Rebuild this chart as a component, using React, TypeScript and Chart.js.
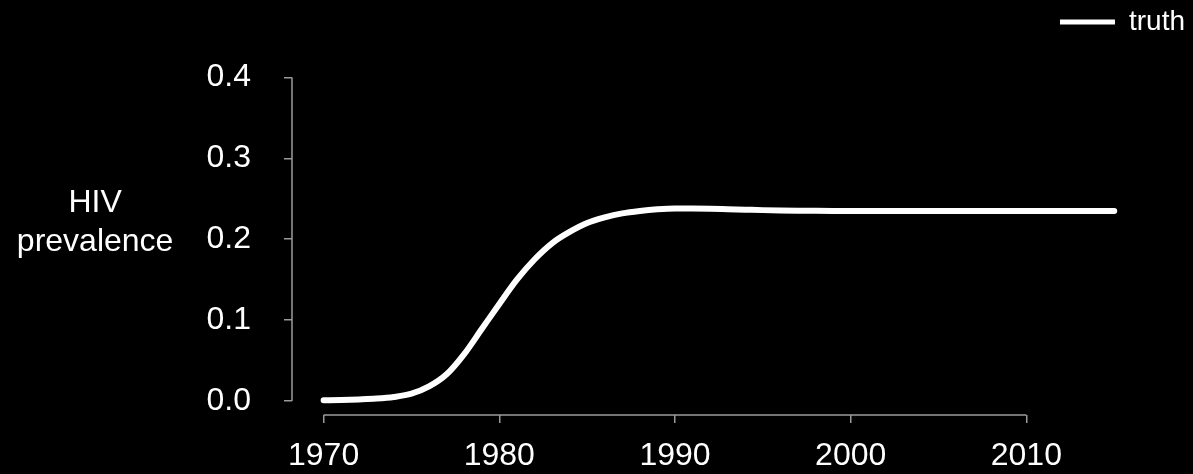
import React, { useEffect, useRef } from "react";
import { Chart, registerables } from "chart.js";

Chart.register(...registerables);

const years: number[] = [
  1970, 1971, 1972, 1973, 1974, 1975, 1976, 1977, 1978, 1979,
  1980, 1981, 1982, 1983, 1984, 1985, 1986, 1987, 1988, 1989,
  1990, 1991, 1992, 1993, 1994, 1995, 1996, 1997, 1998, 1999,
  2000, 2001, 2002, 2003, 2004, 2005, 2006, 2007, 2008, 2009,
  2010, 2011, 2012, 2013, 2014, 2015,
];
const truth: number[] = [
  0.001, 0.0013, 0.002, 0.003, 0.005, 0.009, 0.018, 0.033, 0.058, 0.089,
  0.12, 0.15, 0.175, 0.195, 0.209, 0.22, 0.227, 0.232, 0.235, 0.237,
  0.238, 0.238, 0.2378, 0.2372, 0.2366, 0.236, 0.2356, 0.2353, 0.2351, 0.235,
  0.235, 0.235, 0.235, 0.235, 0.235, 0.235, 0.235, 0.235, 0.235, 0.235,
  0.235, 0.235, 0.235, 0.235, 0.235, 0.235,
];
const xTicks: number[] = [1970, 1980, 1990, 2000, 2010];
const yTicks: number[] = [0, 0.1, 0.2, 0.3, 0.4];
const yTitle: string[] = ["HIV", "prevalence"];
const seriesLabel = "truth";

const FONT = '"Liberation Sans", Arial, Helvetica, sans-serif';
const AXIS_COLOR = "#9a9a9a";

const rAxes = {
  id: "rAxes",
  afterDraw(chart: any) {
    const { ctx, chartArea, scales } = chart;
    const xs = scales.x;
    const ys = scales.y;
    ctx.save();
    ctx.strokeStyle = AXIS_COLOR;
    ctx.lineWidth = 1.5;
    ctx.beginPath();
    ctx.moveTo(chartArea.left, ys.getPixelForValue(yTicks[0]));
    ctx.lineTo(chartArea.left, ys.getPixelForValue(yTicks[yTicks.length - 1]));
    ctx.moveTo(xs.getPixelForValue(xTicks[0]), chartArea.bottom);
    ctx.lineTo(xs.getPixelForValue(xTicks[xTicks.length - 1]), chartArea.bottom);
    ctx.stroke();
    ctx.fillStyle = "#ffffff";
    ctx.font = "32px " + FONT;
    ctx.textAlign = "center";
    ctx.textBaseline = "middle";
    const cx = chartArea.left / 3.07;
    const cy = ys.getPixelForValue(0.2) - 17;
    ctx.fillText(yTitle[0], cx, cy - 19);
    ctx.fillText(yTitle[1], cx, cy + 20);
    ctx.restore();
  },
};

export default function App() {
  const ref = useRef<HTMLCanvasElement | null>(null);
  useEffect(() => {
    if (!ref.current) return;
    const chart = new Chart(ref.current, {
      type: "line",
      data: {
        datasets: [
          {
            label: seriesLabel,
            data: years.map((y, i) => ({ x: y, y: truth[i] })),
            borderColor: "#ffffff",
            backgroundColor: "#ffffff",
            borderWidth: 6,
            borderCapStyle: "round",
            pointRadius: 0,
            cubicInterpolationMode: "monotone",
            fill: false,
          },
        ],
      },
      options: {
        responsive: false,
        animation: false,
        layout: { padding: { top: 5, right: 5, bottom: 0, left: 0 } },
        plugins: {
          tooltip: { enabled: false },
          legend: {
            display: true,
            position: "top",
            align: "end",
            labels: {
              color: "#ffffff",
              font: { family: FONT, size: 28 },
              boxWidth: 55,
              boxHeight: 5,
              padding: 3,
              generateLabels: (c: any) =>
                c.data.datasets.map((d: any, i: number) => ({
                  text: d.label,
                  fillStyle: "#ffffff",
                  strokeStyle: "#ffffff",
                  lineWidth: 0,
                  fontColor: "#ffffff",
                  datasetIndex: i,
                  hidden: false,
                })),
            },
          },
        },
        scales: {
          x: {
            type: "linear",
            min: 1968.2,
            max: 2019.2,
            afterFit: (s: any) => {
              s.height = 59;
            },
            afterBuildTicks: (s: any) => {
              s.ticks = xTicks.map((v) => ({ value: v }));
            },
            grid: {
              display: true,
              drawOnChartArea: false,
              drawTicks: true,
              tickLength: 8,
              color: AXIS_COLOR,
              lineWidth: 1.5,
            },
            border: { display: false },
            ticks: {
              color: "#ffffff",
              font: { family: FONT, size: 32 },
              padding: 14,
              maxRotation: 0,
              autoSkip: false,
              callback: (v: any) => String(v),
            },
          },
          y: {
            type: "linear",
            min: -0.01728,
            max: 0.4389,
            afterFit: (s: any) => {
              s.width = 292;
              s.paddingTop = 0;
              s.paddingBottom = 0;
            },
            afterBuildTicks: (s: any) => {
              s.ticks = yTicks.map((v) => ({ value: v }));
            },
            grid: {
              display: true,
              drawOnChartArea: false,
              drawTicks: true,
              tickLength: 8,
              color: AXIS_COLOR,
              lineWidth: 1.5,
            },
            border: { display: false },
            ticks: {
              color: "#ffffff",
              font: { family: FONT, size: 32 },
              padding: 33,
              autoSkip: false,
              callback: (v: any) => Number(v).toFixed(1),
            },
          },
        },
      },
      plugins: [rAxes],
    });
    return () => chart.destroy();
  }, []);
  return (
    <div
      style={{
        position: "fixed",
        left: 0,
        top: 0,
        width: 1193,
        height: 474,
        background: "#000000",
      }}
    >
      <canvas ref={ref} width={1193} height={474} style={{ display: "block" }} />
    </div>
  );
}
